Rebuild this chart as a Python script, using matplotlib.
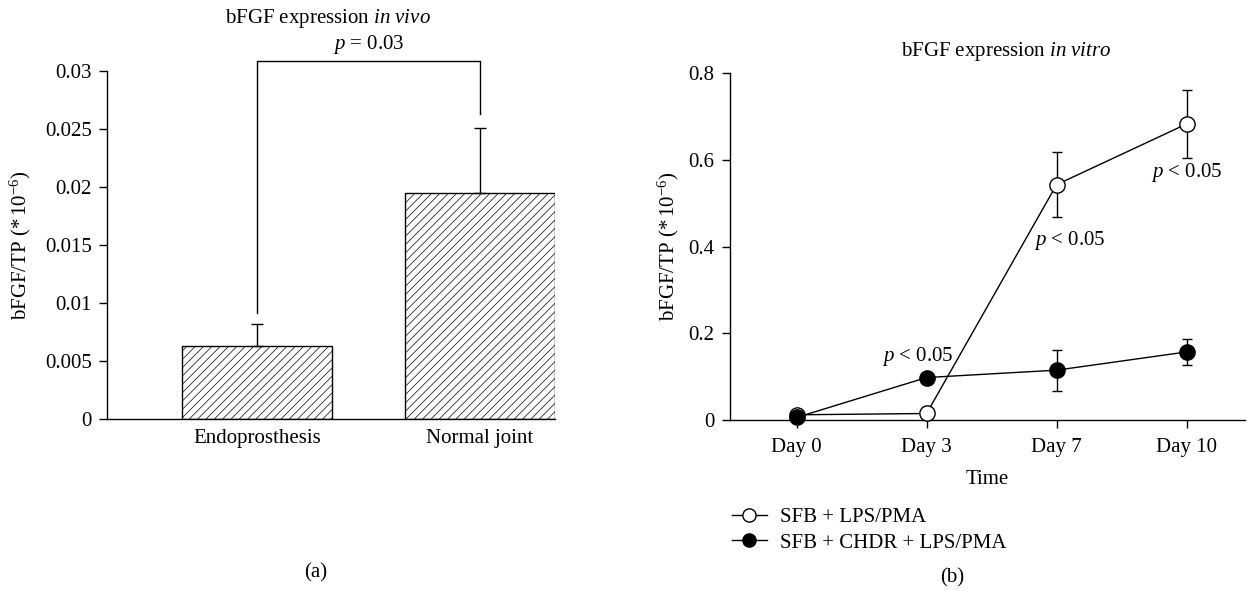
import matplotlib
matplotlib.use("Agg")
import matplotlib.pyplot as plt
from matplotlib.lines import Line2D
import numpy as np

plt.rcParams['font.family'] = ['Liberation Serif', 'DejaVu Serif']
plt.rcParams['mathtext.fontset'] = 'custom'
plt.rcParams['mathtext.rm'] = 'Liberation Serif'
plt.rcParams['mathtext.it'] = 'Liberation Serif:italic'
plt.rcParams['mathtext.bf'] = 'Liberation Serif:bold'
plt.rcParams['hatch.linewidth'] = 0.5

# ---- data: panel (a) ----
bar_categories = ["Endoprosthesis", "Normal joint"]
bar_values = [0.0063, 0.0195]
bar_errors = [0.0019, 0.0056]
bracket_y = 0.0309
bracket_left_bottom = 0.0091
bracket_right_bottom = 0.0263
p_text_a = "$p$ = 0.03"

# ---- data: panel (b) ----
days = ["Day 0", "Day 3", "Day 7", "Day 10"]
sfb_lps = [0.012, 0.015, 0.543, 0.683]
sfb_lps_err = [0.0, 0.0, 0.075, 0.078]
sfb_chdr = [0.006, 0.098, 0.115, 0.157]
sfb_chdr_err = [0.0, 0.0, 0.047, 0.030]
series_labels = ["SFB + LPS/PMA", "SFB + CHDR + LPS/PMA"]
p_labels_b = ["$p$ < 0.05", "$p$ < 0.05", "$p$ < 0.05"]
p_label_pos = [(0.93, 0.146), (2.1, 0.415), (3.0, 0.57)]

fs = 15
W, H = 1249, 590
fig = plt.figure(figsize=(W/100, H/100), dpi=100)

# ---------------- panel (a) ----------------
axa = fig.add_axes([107.3/W, 1-419/H, 447.3/W, 348/H])
x = np.arange(len(bar_categories))
axa.bar(x, bar_values, width=0.676, color='white', edgecolor='black',
        hatch='////', linewidth=1.0, zorder=2)
axa.errorbar(x, bar_values, yerr=[np.zeros(len(bar_errors)), bar_errors],
             fmt='none', ecolor='black', elinewidth=1.0, capsize=4.2,
             capthick=1.0, zorder=3)
axa.plot([0, 0, 1, 1],
         [bracket_left_bottom, bracket_y, bracket_y, bracket_right_bottom],
         color='black', lw=1.0, clip_on=False)
axa.text(0.5, bracket_y + 0.0004, p_text_a, ha='center', va='bottom',
         fontsize=fs)
axa.set_xlim(-0.673, 1.336)
axa.set_ylim(0, 0.03)
axa.set_yticks([0, 0.005, 0.01, 0.015, 0.02, 0.025, 0.03])
axa.set_yticklabels(['0', '0.005', '0.01', '0.015', '0.02', '0.025', '0.03'])
axa.set_xticks(x)
axa.set_xticklabels(bar_categories)
axa.tick_params(axis='x', length=0, pad=7, labelsize=fs)
axa.tick_params(axis='y', length=6, width=1.0, labelsize=fs, pad=5)
for s in ['top', 'right']:
    axa.spines[s].set_visible(False)
for s in ['left', 'bottom']:
    axa.spines[s].set_linewidth(1.0)
axa.set_ylabel(r'bFGF/TP ($*\,10^{-6}$)', fontsize=fs)
axa.yaxis.set_label_coords(-0.166, 0.5)
fig.text(328/W, 1-18.5/H, r'bFGF expression $\mathit{in\ vivo}$',
         ha='center', va='center', fontsize=fs)
fig.text(315.5/W, 1-573/H, '(a)', ha='center', va='center', fontsize=fs)

# ---------------- panel (b) ----------------
axb = fig.add_axes([730/W, 1-420/H, 515/W, 346.7/H])
xd = np.arange(len(days))
axb.errorbar(xd, sfb_lps, yerr=sfb_lps_err, color='black', lw=1.0,
             marker='o', markersize=11, markerfacecolor='white',
             markeredgecolor='black', markeredgewidth=1.0,
             ecolor='black', elinewidth=1.0, capsize=3.5, capthick=1.0,
             zorder=3, clip_on=False)
axb.errorbar(xd, sfb_chdr, yerr=sfb_chdr_err, color='black', lw=1.0,
             marker='o', markersize=11, markerfacecolor='black',
             markeredgecolor='black', markeredgewidth=1.0,
             ecolor='black', elinewidth=1.0, capsize=3.5, capthick=1.0,
             zorder=4, clip_on=False)
for (px, py), t in zip(p_label_pos, p_labels_b):
    axb.text(px, py, t, ha='center', va='center', fontsize=fs)
axb.set_xlim(-0.513, 3.45)
axb.set_ylim(0, 0.8)
axb.set_yticks([0, 0.2, 0.4, 0.6, 0.8])
axb.set_yticklabels(['0', '0.2', '0.4', '0.6', '0.8'])
axb.set_xticks(xd)
axb.set_xticklabels(days)
axb.tick_params(axis='both', length=6, width=1.0, labelsize=fs)
axb.tick_params(axis='x', pad=7)
axb.tick_params(axis='y', pad=5)
for s in ['top', 'right']:
    axb.spines[s].set_visible(False)
for s in ['left', 'bottom']:
    axb.spines[s].set_linewidth(1.0)
axb.set_ylabel(r'bFGF/TP ($*\,10^{-6}$)', fontsize=fs)
axb.yaxis.set_label_coords(-0.095, 0.5)
axb.set_xlabel('Time', fontsize=fs, labelpad=9)
fig.text(1006/W, 1-51.7/H, r'bFGF expression $\mathit{in\ vitro}$',
         ha='center', va='center', fontsize=fs)

handles = [
    Line2D([0], [0], color='black', lw=1.0, marker='o', markersize=9.5,
           markerfacecolor='white', markeredgecolor='black'),
    Line2D([0], [0], color='black', lw=1.0, marker='o', markersize=9.5,
           markerfacecolor='black', markeredgecolor='black'),
]
fig.legend(handles, series_labels, loc='center left',
           bbox_to_anchor=(731.5/W, 1-530/H), frameon=False, fontsize=fs,
           handlelength=1.68, handletextpad=0.63, labelspacing=0.3,
           borderpad=0, borderaxespad=0)
fig.text(951.7/W, 1-578/H, '(b)', ha='center', va='center', fontsize=fs)

fig.savefig('out.png', dpi=100)
